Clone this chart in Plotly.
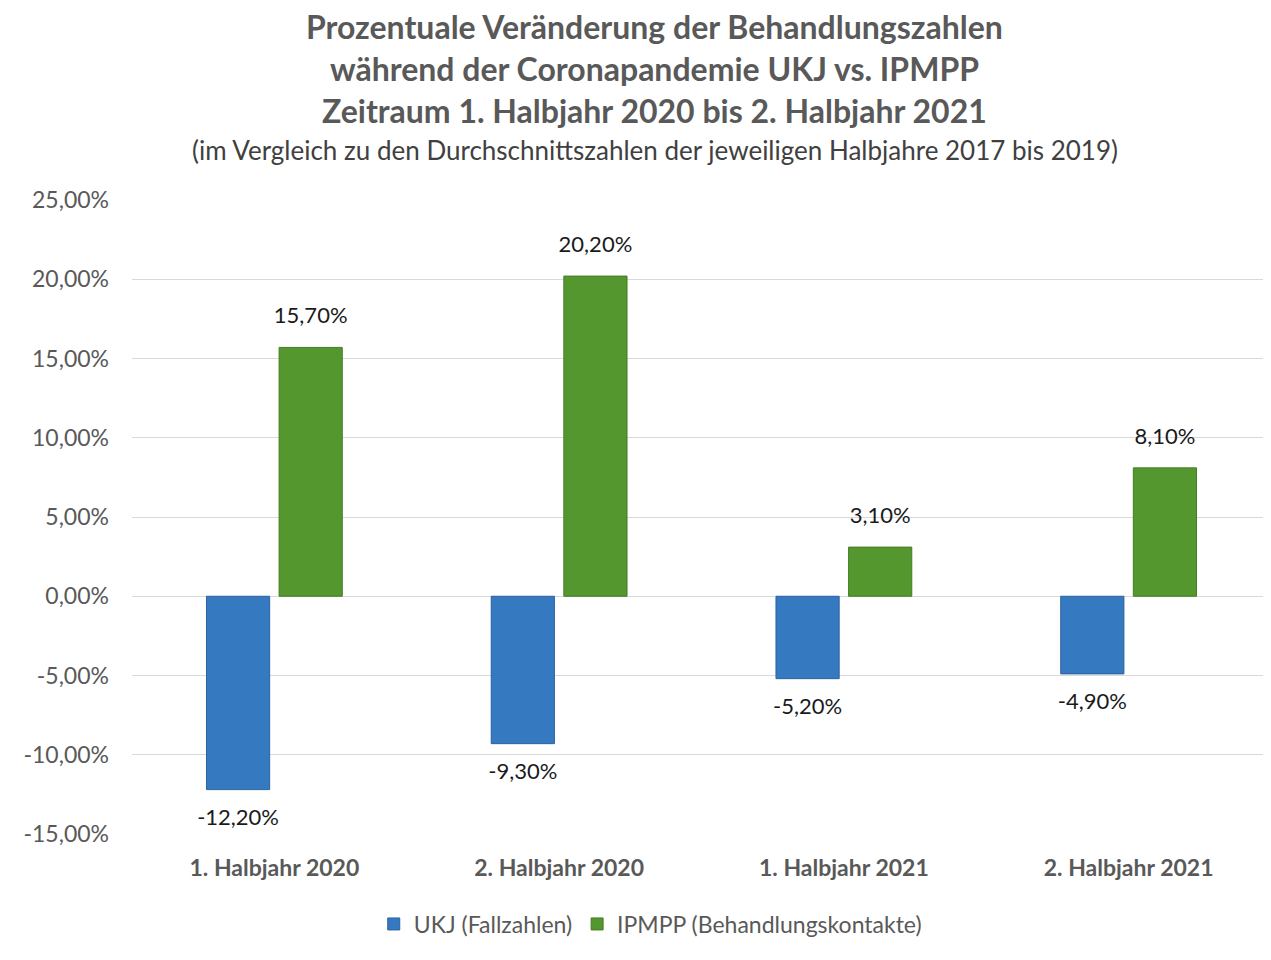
import plotly.graph_objects as go

categories = ["1. Halbjahr 2020", "2. Halbjahr 2020", "1. Halbjahr 2021", "2. Halbjahr 2021"]
ukj = [-12.2, -9.3, -5.2, -4.9]
ipmpp = [15.7, 20.2, 3.1, 8.1]
series_names = ["UKJ (Fallzahlen)", "IPMPP (Behandlungskontakte)"]
title_lines = [
    "Prozentuale Veränderung der Behandlungszahlen",
    "während der Coronapandemie UKJ vs. IPMPP",
    "Zeitraum 1. Halbjahr 2020 bis 2. Halbjahr 2021",
]
subtitle = "(im Vergleich zu den Durchschnittszahlen der jeweiligen Halbjahre 2017 bis 2019)"
tick_vals = [-15, -10, -5, 0, 5, 10, 15, 20, 25]

FONT = "Lato"
GREY = "#595959"
LBL = 22


def pct(v):
    return f"{v:.2f}".replace(".", ",") + "%"


def label(v):
    s = f"<span style='font-size:{LBL}px'>{pct(v)}</span>"
    # blank line pushes label away from bar end
    return s + "<br> " if v >= 0 else " <br>" + s


fig = go.Figure()
fig.add_trace(go.Bar(
    x=categories, y=ukj, name=series_names[0],
    marker=dict(color="#3579c0", line=dict(color="#2d629e", width=1)),
    text=[label(v) for v in ukj], textposition="outside", constraintext="none",
    textfont=dict(family=FONT, size=14, color="#1a1a1a"), cliponaxis=False,
))
fig.add_trace(go.Bar(
    x=categories, y=ipmpp, name=series_names[1],
    marker=dict(color="#55972f", line=dict(color="#437c25", width=1)),
    text=[label(v) for v in ipmpp], textposition="outside", constraintext="none",
    textfont=dict(family=FONT, size=14, color="#1a1a1a"), cliponaxis=False,
))

ann = []
ys = [27, 69, 110]
for line, ypx in zip(title_lines, ys):
    ann.append(dict(text=f"<b>{line}</b>", x=0.459, xref="paper", y=(834 - ypx) / 634, yref="paper",
                    xanchor="center", yanchor="middle", showarrow=False,
                    font=dict(family=FONT, size=32, color=GREY)))
ann.append(dict(text=subtitle, x=0.459, xref="paper", y=(834 - 150) / 634, yref="paper",
                xanchor="center", yanchor="middle", showarrow=False,
                font=dict(family=FONT, size=26, color="#404040")))

fig.update_layout(
    width=1271, height=960,
    margin=dict(l=124, r=8, t=192, b=134),
    paper_bgcolor="white", plot_bgcolor="white",
    separators=",.",
    barmode="group", bargap=0.49, bargroupgap=0.13,
    font=dict(family=FONT, color=GREY),
    annotations=ann,
    showlegend=True,
    legend=dict(orientation="h", x=0.455, y=(834 - 924) / 634, xanchor="center", yanchor="middle",
                font=dict(family=FONT, size=23, color=GREY), itemwidth=30, traceorder="normal"),
    xaxis=dict(type="category", range=[-0.5, 3.5], showgrid=False, showline=False, zeroline=False,
               tickfont=dict(family=FONT, size=23, color=GREY), ticks="", ticklabelstandoff=18,
               tickvals=categories, ticktext=[f"<b>{c}</b>" for c in categories]),
    yaxis=dict(range=[-15, 25], tickvals=tick_vals, ticktext=[pct(v) for v in tick_vals],
               showgrid=True, gridcolor="#d9d9d9", gridwidth=1,
               zeroline=True, zerolinecolor="#d9d9d9", zerolinewidth=1,
               tickfont=dict(family=FONT, size=23, color=GREY), ticks="", ticklabelstandoff=22),
)

fig.write_html("out.html")
